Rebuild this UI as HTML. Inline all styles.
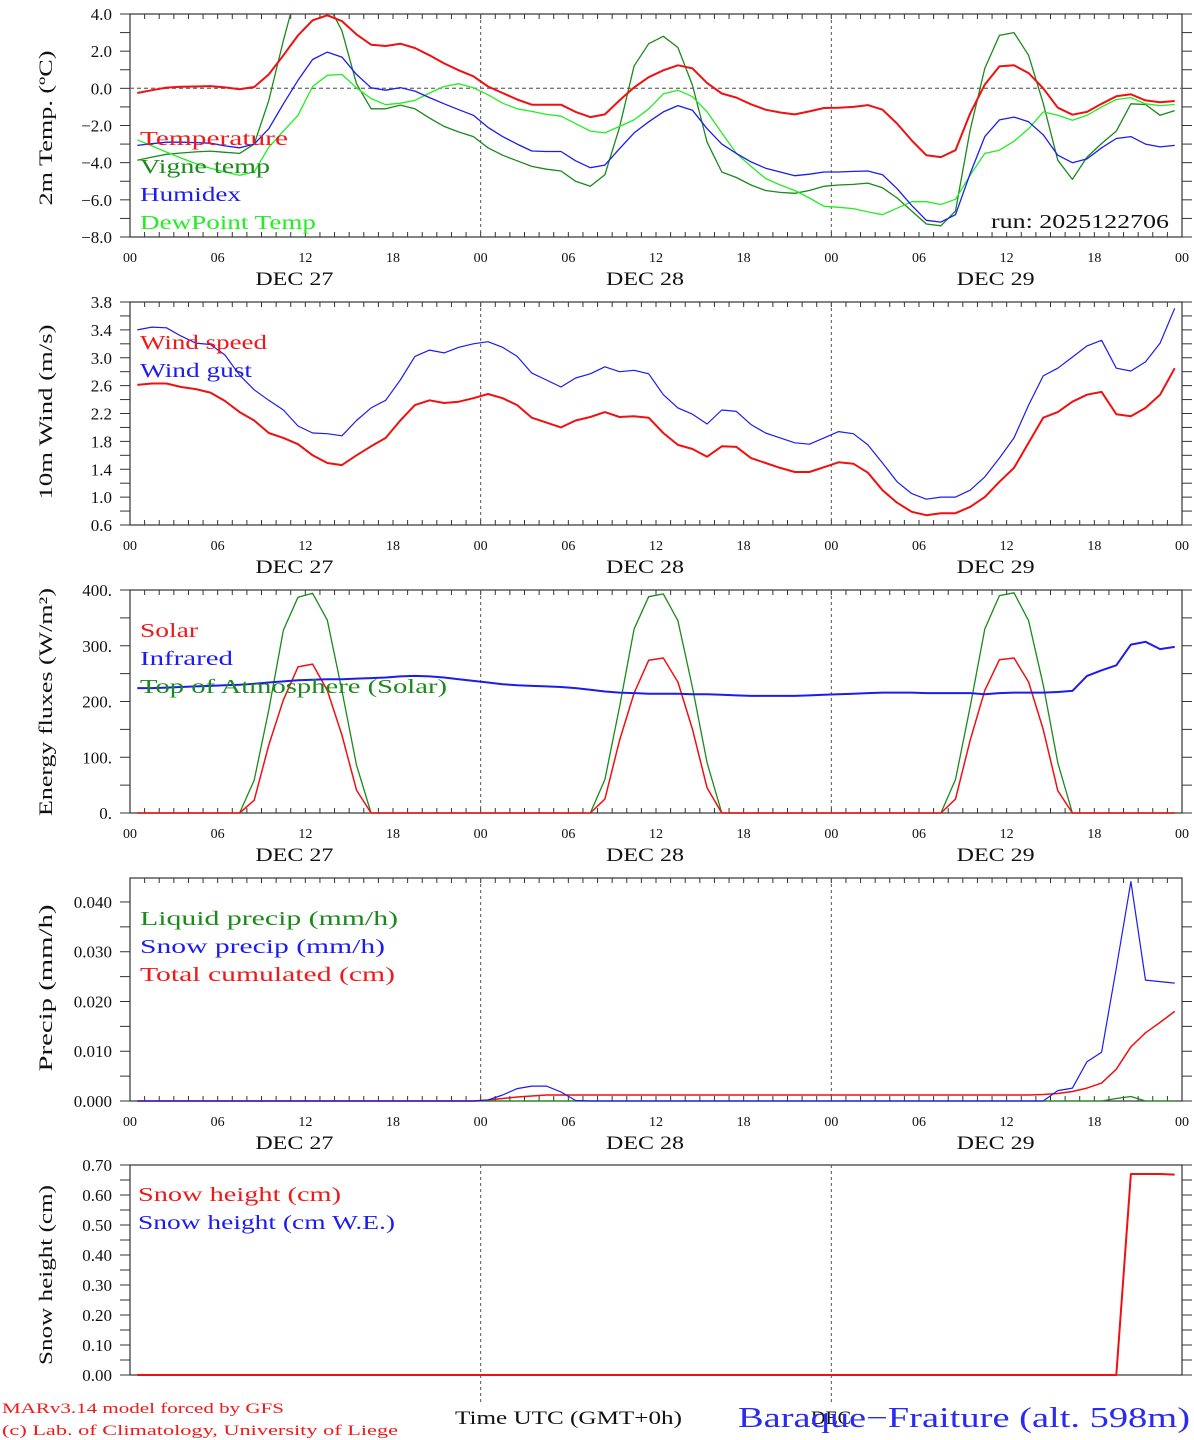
<!DOCTYPE html>
<html><head><meta charset="utf-8"><title>MAR meteogram Baraque-Fraiture</title>
<style>
html,body{margin:0;padding:0;background:#fff;}
svg{display:block;font-family:"Liberation Serif",serif;}
</style></head>
<body>
<svg id="chart" width="1194" height="1440" viewBox="0 0 1194 1440" xmlns="http://www.w3.org/2000/svg">
<defs>
<clipPath id="clip1"><rect x="130" y="14" width="1052" height="223"/></clipPath>
</defs>
</svg>
<script>
// ---------- data ----------
const hourLabels = ["00","06","12","18","00","06","12","18","00","06","12","18","00"];
const dayLabels = ["DEC 27","DEC 28","DEC 29"];
const hoursHourly = Array.from({length:72},(_,k)=>k+0.5);

const temperature = [-0.25,-0.1,0.04,0.08,0.1,0.12,0.05,-0.05,0.07,0.75,
1.78,2.85,3.66,3.93,3.62,2.9,2.35,2.28,2.4,2.17,
1.78,1.34,0.97,0.65,0.1,-0.25,-0.6,-0.88,-0.88,-0.88,
-1.27,-1.55,-1.4,-0.65,0.05,0.6,0.97,1.24,1.07,0.28,
-0.28,-0.5,-0.86,-1.15,-1.3,-1.4,-1.24,-1.06,-1.04,-1.0,
-0.9,-1.15,-1.9,-2.8,-3.6,-3.7,-3.33,-1.36,0.2,1.18,
1.24,0.82,0,-1.04,-1.42,-1.27,-0.83,-0.43,-0.32,-0.65,
-0.75,-0.68];
const vigneTemp = [-3.87,-3.7,-3.55,-3.48,-3.42,-3.38,-3.44,-3.5,-3.0,-0.65,
2.58,5.5,6.2,4.6,3.1,0.25,-1.1,-1.1,-0.9,-1.1,
-1.6,-2.05,-2.35,-2.6,-3.2,-3.6,-3.9,-4.2,-4.35,-4.45,
-5.0,-5.27,-4.65,-2.1,1.2,2.4,2.8,2.2,0.16,-2.9,
-4.5,-4.8,-5.2,-5.5,-5.6,-5.65,-5.5,-5.27,-5.2,-5.17,
-5.1,-5.35,-5.9,-6.6,-7.3,-7.4,-6.6,-2.26,1.07,2.85,
3.0,1.78,-0.8,-3.87,-4.9,-3.7,-2.97,-2.3,-0.83,-0.87,
-1.45,-1.2];
const humidex = [-3.07,-2.98,-2.9,-2.9,-2.92,-2.95,-3.1,-3.2,-3.0,-2.17,
-0.83,0.43,1.55,1.95,1.68,0.75,0.03,-0.1,0.04,-0.15,
-0.5,-0.83,-1.15,-1.45,-2.1,-2.6,-3.0,-3.37,-3.4,-3.4,
-3.9,-4.27,-4.13,-3.25,-2.4,-1.8,-1.27,-0.93,-1.18,-2.17,
-3.0,-3.5,-3.96,-4.3,-4.5,-4.7,-4.62,-4.5,-4.5,-4.47,
-4.45,-4.65,-5.4,-6.3,-7.1,-7.2,-6.8,-4.6,-2.6,-1.7,
-1.55,-1.8,-2.5,-3.6,-4.0,-3.8,-3.2,-2.7,-2.6,-3.0,
-3.15,-3.07];
const dewPoint = [-2.77,-3.1,-3.43,-3.75,-4.05,-4.3,-4.5,-4.68,-4.5,-3.17,
-2.3,-1.45,0.1,0.7,0.75,0.03,-0.55,-0.88,-0.8,-0.65,
-0.25,0.1,0.25,0.03,-0.35,-0.8,-1.1,-1.24,-1.4,-1.5,
-1.9,-2.3,-2.4,-2.05,-1.7,-1.1,-0.3,-0.1,-0.45,-1.27,
-2.4,-3.5,-4.2,-4.85,-5.2,-5.5,-5.9,-6.35,-6.4,-6.47,
-6.65,-6.8,-6.45,-6.1,-6.1,-6.25,-5.97,-4.68,-3.5,-3.33,
-2.85,-2.17,-1.27,-1.45,-1.72,-1.45,-1.0,-0.6,-0.5,-0.83,
-0.93,-0.87];

const windSpeed = [2.61,2.63,2.63,2.58,2.55,2.5,2.38,2.22,2.1,1.92,
1.85,1.76,1.6,1.49,1.46,1.6,1.73,1.85,2.1,2.32,
2.39,2.35,2.37,2.42,2.48,2.42,2.32,2.14,2.07,2.0,
2.1,2.15,2.22,2.15,2.16,2.14,1.92,1.75,1.69,1.58,
1.73,1.72,1.56,1.49,1.42,1.36,1.36,1.43,1.5,1.48,
1.35,1.1,0.92,0.79,0.74,0.77,0.77,0.86,1.0,1.22,
1.42,1.78,2.14,2.22,2.37,2.47,2.51,2.19,2.16,2.28,
2.47,2.85];
const windGust = [3.4,3.44,3.43,3.31,3.21,3.19,3.04,2.75,2.54,2.39,
2.25,2.02,1.92,1.91,1.88,2.1,2.28,2.39,2.68,3.02,
3.11,3.07,3.15,3.2,3.23,3.15,3.02,2.78,2.68,2.58,
2.71,2.77,2.87,2.8,2.82,2.77,2.47,2.28,2.19,2.05,
2.25,2.23,2.04,1.92,1.85,1.78,1.76,1.85,1.94,1.91,
1.75,1.49,1.22,1.05,0.97,1.0,1.0,1.1,1.29,1.56,
1.85,2.32,2.74,2.85,3.01,3.17,3.25,2.85,2.81,2.94,
3.21,3.71];

const solar = [0,0,0,0,0,0,0,0,23,122,203,262,267,220,140,41,
0,0,0,0,0,0,0,0,0,0,0,0,0,0,0,0,
25,130,215,274,278,235,150,45,
0,0,0,0,0,0,0,0,0,0,0,0,0,0,0,0,
25,130,220,275,278,235,150,40,
0,0,0,0,0,0,0,0];
const topAtmosphere = [0,0,0,0,0,0,0,0,59,185,328,387,394,346,220,86,
0,0,0,0,0,0,0,0,0,0,0,0,0,0,0,0,
60,190,330,388,393,345,225,90,
0,0,0,0,0,0,0,0,0,0,0,0,0,0,0,0,
60,190,330,390,395,345,230,90,
0,0,0,0,0,0,0,0];
const infrared = [224,224,225,226,227,228,229,230,232,234,236,238,
239,240,240,241,242,243,245,246,245,243,240,237,
234,231,229,228,227,226,224,221,218,216,215,214,
214,214,213,213,212,211,210,210,210,210,211,212,
213,214,215,216,216,216,215,215,215,215,213,215,
216,216,216,217,219,246,256,265,302,307,294,298];

const liquidPrecip = [0,0,0,0,0,0,0,0,0,0,0,0,0,0,0,0,0,0,0,0,0,0,0,0,
0,0,0,0,0,0,0,0,0,0,0,0,0,0,0,0,0,0,0,0,0,0,0,0,
0,0,0,0,0,0,0,0,0,0,0,0,0,0,0,0,0,0,0,0.0005,0.0009,0,0,0];
const snowPrecip = [0,0,0,0,0,0,0,0,0,0,0,0,0,0,0,0,0,0,0,0,0,0,0,0,
0.0002,0.0012,0.0025,0.003,0.003,0.0018,0.0001,0,0,0,0,0,0,0,0,0,0,0,0,0,0,0,0,0,
0,0,0,0,0,0,0,0,0,0,0,0,0,0,0,0.0021,0.0026,0.0079,0.0098,0.0267,0.0441,0.0243,0.024,0.0237];
const totalCumulated = [0,0,0,0,0,0,0,0,0,0,0,0,0,0,0,0,0,0,0,0,0,0,0,0,
0.0002,0.0005,0.0008,0.001,0.0012,0.0012,0.0012,0.0012,0.0012,0.0012,0.0012,0.0012,0.0012,0.0012,0.0012,0.0012,0.0012,0.0012,0.0012,0.0012,0.0012,0.0012,0.0012,0.0012,
0.0012,0.0012,0.0012,0.0012,0.0012,0.0012,0.0012,0.0012,0.0012,0.0012,0.0012,0.0012,0.0012,0.0012,0.0013,0.0015,0.0019,0.0026,0.0036,0.0064,0.0109,0.0137,0.0158,0.018];

const snowHeight = [0,0,0,0,0,0,0,0,0,0,0,0,0,0,0,0,0,0,0,0,0,0,0,0,
0,0,0,0,0,0,0,0,0,0,0,0,0,0,0,0,0,0,0,0,0,0,0,0,
0,0,0,0,0,0,0,0,0,0,0,0,0,0,0,0,0,0,0,0,0.67,0.67,0.67,0.668];

const p1Ticks = ["4.0","2.0","0.0","\u22122.0","\u22124.0","\u22126.0","\u22128.0"];
const p2Ticks = ["3.8","3.4","3.0","2.6","2.2","1.8","1.4","1.0","0.6"];
const p3Ticks = ["400.","300.","200.","100.","0."];
const p4Ticks = ["0.040","0.030","0.020","0.010","0.000"];
const p5Ticks = ["0.70","0.60","0.50","0.40","0.30","0.20","0.10","0.00"];

// ---------- drawing ----------
const NS = "http://www.w3.org/2000/svg";
const svg = document.getElementById("chart");
const X0 = 130, X1 = 1182, HMAX = 72;
function xs(h){ return X0 + (X1 - X0) * h / HMAX; }
function mk(tag, attrs, parent){
  const e = document.createElementNS(NS, tag);
  for (const k in attrs) e.setAttribute(k, attrs[k]);
  (parent || svg).appendChild(e);
  return e;
}
function txt(s, x, y, size, color, anchor, parent, len){
  const t = mk("text", {x:x, y:y, "font-size":size, fill:color, "text-anchor":anchor||"start"}, parent);
  if (len) { t.setAttribute("textLength", len); t.setAttribute("lengthAdjust","spacingAndGlyphs"); }
  t.textContent = s;
  return t;
}

function panel(cfg){
  const g = mk("g", {});
  
  
  const ys = v => cfg.bottom - (v - cfg.vmin) / (cfg.vmax - cfg.vmin) * (cfg.bottom - cfg.top);
  const frame = mk("rect", {x:X0, y:cfg.top, width:X1-X0, height:cfg.bottom-cfg.top, fill:"none", stroke:"#333", "stroke-width":1.2}, g);
  
  
  if (cfg.xticks !== false) {
    for (let h = 1; h < HMAX; h++) {
      const x = xs(h);
      mk("line", {x1:x, x2:x, y1:cfg.top, y2:cfg.top+5, stroke:"#333", "stroke-width":1}, g);
      mk("line", {x1:x, x2:x, y1:cfg.bottom, y2:cfg.bottom-5, stroke:"#333", "stroke-width":1}, g);
    }
  }
  const yAxis = mk("g", {}, g);
  
  
  const nMajor = cfg.ticks.length - 1;
  for (let i = 0; i <= nMajor * 2; i++) {
    const v = cfg.vmax2 - i * (cfg.vmax2 - cfg.vmin) / (nMajor * 2);
    const y = ys(v);
    mk("line", {x1:X0-10, x2:X0, y1:y, y2:y, stroke:"#333", "stroke-width":1}, yAxis);
    mk("line", {x1:X1, x2:X1+10, y1:y, y2:y, stroke:"#333", "stroke-width":1}, yAxis);
    if (i % 2 === 0) {
      const t = txt(cfg.ticks[i/2], 112, y + 6, 17, "#111", "end", yAxis);
      
      
    }
  }
  const cy = cfg.titleY || (cfg.top + cfg.bottom) / 2;
  const yt = txt(cfg.title, 0, 0, 19, "#111", "middle", g, cfg.titleLen);
  yt.setAttribute("transform", "translate(52," + cy + ") rotate(-90)");
  
  
  [24, 48].forEach(h => {
    const l = mk("line", {x1:xs(h), x2:xs(h), y1:cfg.top, y2:cfg.sepBottom || cfg.bottom, stroke:"#555", "stroke-width":1, "stroke-dasharray":"3,3"}, g);
    
    
  });
  if (cfg.xlabels !== false) {
    const xa = mk("g", {}, g);
    
    
    hourLabels.forEach((s, i) => {
      txt(s, xs(i * 6), cfg.bottom + 25, 14, "#111", "middle", xa);
    });
    dayLabels.forEach((s, i) => {
      txt(s, xs(12 + 24 * i) - 11, cfg.bottom + 48, 19, "#111", "middle", xa, 78);
    });
  }
  if (cfg.zeroLine) {
    const z = mk("line", {x1:X0, x2:X1, y1:ys(0), y2:ys(0), stroke:"#777", "stroke-width":1.3, "stroke-dasharray":"4,3"}, g);
    
    
  }
  const sg = mk("g", cfg.clip ? {"clip-path":"url(#" + cfg.clip + ")"} : {}, g);
  cfg.series.forEach(s => {
    const pts = s.values.map((v, i) => xs(s.hours[i]).toFixed(1) + "," + ys(v).toFixed(1)).join(" ");
    const pl = mk("polyline", {points:pts, fill:"none", stroke:s.color, "stroke-width":s.width || 1.3, "stroke-linejoin":"round"}, sg);
    
    
  });
  cfg.legend.forEach((l, i) => {
    const t = txt(l.text, l.x || 140, cfg.legendY + i * 28, 20, l.color, "start", g, l.len);
    
    
  });
  return {g, ys};
}

panel({name:"temperature-panel", top:14, bottom:237, vmin:-8, vmax:4, vmax2:4, ticks:p1Ticks,
  title:"2m Temp. (\u00BAC)", titleLen:155, titleY:128, zeroLine:true, clip:"clip1", legendY:145,
  series:[
    {name:"vigne-temp-line", hours:hoursHourly, values:vigneTemp, color:"#1a8a1a", width:1.3},
    {name:"dewpoint-line", hours:hoursHourly, values:dewPoint, color:"#22ee22", width:1.3},
    {name:"humidex-line", hours:hoursHourly, values:humidex, color:"#1c1cf0", width:1.3},
    {name:"temperature-line", hours:hoursHourly, values:temperature, color:"#f01010", width:2}
  ],
  legend:[
    {text:"Temperature", color:"#f01818", len:148},
    {text:"Vigne temp", color:"#1a8a1a", len:130},
    {text:"Humidex", color:"#1c1cf0", len:101},
    {text:"DewPoint Temp", color:"#22ee22", len:176}
  ]});
const run = txt("run: 2025122706", 1169, 228, 20, "#111", "end", null, 178);



panel({name:"wind-panel", top:302, bottom:525, vmin:0.6, vmax:3.8, vmax2:3.8, ticks:p2Ticks,
  title:"10m Wind (m/s)", titleLen:175, titleY:412, legendY:349,
  series:[
    {name:"wind-gust-line", hours:hoursHourly, values:windGust, color:"#1c1cf0", width:1.2},
    {name:"wind-speed-line", hours:hoursHourly, values:windSpeed, color:"#f01010", width:2}
  ],
  legend:[
    {text:"Wind speed", color:"#f01818", len:127},
    {text:"Wind gust", color:"#1c1cf0", len:112}
  ]});

panel({name:"energy-panel", top:590, bottom:813, vmin:0, vmax:400, vmax2:400, ticks:p3Ticks,
  title:"Energy fluxes (W/m\u00B2)", titleLen:228, titleY:702, legendY:637,
  series:[
    {name:"toa-solar-line", hours:hoursHourly, values:topAtmosphere, color:"#1a8a1a", width:1.3},
    {name:"solar-line", hours:hoursHourly, values:solar, color:"#f01010", width:1.5},
    {name:"infrared-line", hours:hoursHourly, values:infrared, color:"#1c1cf0", width:2}
  ],
  legend:[
    {text:"Solar", color:"#f01818", len:58},
    {text:"Infrared", color:"#1c1cf0", len:93},
    {text:"Top of Atmosphere (Solar)", color:"#1a8a1a", len:307}
  ]});

panel({name:"precip-panel", top:878, bottom:1101, vmin:0, vmax:0.04482, vmax2:0.04, ticks:p4Ticks,
  title:"Precip (mm/h)", titleLen:167, titleY:988, legendY:925,
  series:[
    {name:"liquid-precip-line", hours:hoursHourly, values:liquidPrecip, color:"#1a8a1a", width:1.3},
    {name:"total-cumulated-line", hours:hoursHourly, values:totalCumulated, color:"#f01010", width:1.5},
    {name:"snow-precip-line", hours:hoursHourly, values:snowPrecip, color:"#1c1cf0", width:1.2}
  ],
  legend:[
    {text:"Liquid precip (mm/h)", color:"#1a8a1a", len:258},
    {text:"Snow precip (mm/h)", color:"#1c1cf0", len:245},
    {text:"Total cumulated (cm)", color:"#f01818", len:255}
  ]});

panel({name:"snow-panel", top:1165, bottom:1375, vmin:0, vmax:0.70, vmax2:0.70, ticks:p5Ticks,
  title:"Snow height (cm)", titleLen:180, titleY:1275, xticks:false, xlabels:false, sepBottom:1402, legendY:1201,
  series:[
    {name:"snow-height-line", hours:hoursHourly, values:snowHeight, color:"#f01010", width:2}
  ],
  legend:[
    {text:"Snow height (cm)", color:"#f01818", x:138, len:203},
    {text:"Snow height (cm W.E.)", color:"#1c1cf0", x:138, len:257}
  ]});

const f1 = txt("MARv3.14 model forced by GFS", 2, 1413, 15, "#f01818", "start", null, 282);


const f2 = txt("(c) Lab. of Climatology, University of Liege", 2, 1435, 15, "#f01818", "start", null, 396);


const f3 = txt("Time UTC (GMT+0h)", 455, 1424, 19, "#111", "start", null, 227);


const f4 = txt("DEC", 831, 1424, 19, "#111", "middle", null, 40);


const f5 = txt("Baraque\u2212Fraiture (alt. 598m)", 738, 1427, 28, "#2a2af0", "start", null, 452);


</script>
</body></html>
